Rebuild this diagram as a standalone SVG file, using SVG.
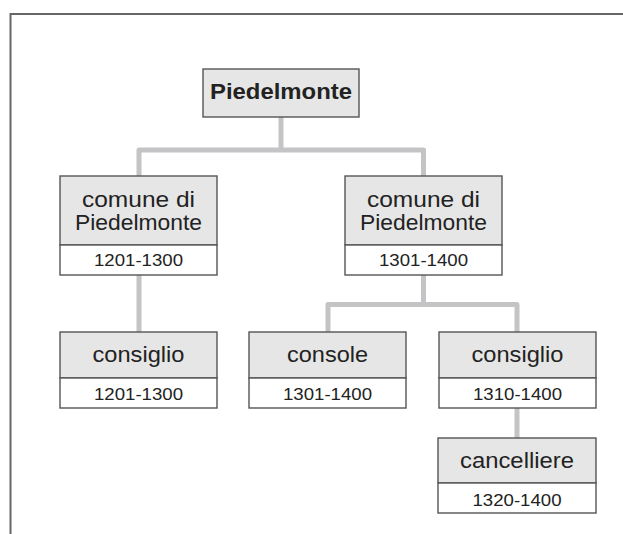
<svg xmlns="http://www.w3.org/2000/svg" width="623" height="534" viewBox="0 0 623 534">
<style>
.hd{fill:#e6e6e6;stroke:#555;stroke-width:1.4}
.dt{fill:#fff;stroke:#555;stroke-width:1.4}
.t{font-family:"Liberation Sans",Arial,sans-serif;font-size:22.5px;fill:#222;text-anchor:middle}
.b{font-weight:bold}
.d{font-family:"Liberation Sans",Arial,sans-serif;font-size:17px;fill:#222;text-anchor:middle}
.c{fill:none;stroke:#c4c4c6;stroke-width:5;stroke-linejoin:round}
</style>
<rect width="623" height="534" fill="#fff"/>
<path d="M10.5,534 V14 H623" fill="none" stroke="#666" stroke-width="2"/>
<g id="connectors">
<path class="c" d="M281,117 V150"/>
<path class="c" d="M139,176 V150 H423.5 V176"/>
<path class="c" d="M139,275 V332"/>
<path class="c" d="M423.5,275 V304.5"/>
<path class="c" d="M328,332 V304.5 H517 V332"/>
<path class="c" d="M517,408 V438"/>
</g>
<g id="n-piedelmonte">
<rect class="hd" x="203" y="69" width="156" height="48"/>
<text class="t b" x="281" y="99" textLength="142" lengthAdjust="spacingAndGlyphs">Piedelmonte</text>
</g>
<g id="n-comune1">
<rect class="hd" x="60" y="176" width="157" height="69"/>
<rect class="dt" x="60" y="245" width="157" height="30"/>
<text class="t" x="138.5" y="207" textLength="113" lengthAdjust="spacingAndGlyphs">comune di</text>
<text class="t" x="138.5" y="230" textLength="127" lengthAdjust="spacingAndGlyphs">Piedelmonte</text>
<text class="d" x="138.5" y="266" textLength="89" lengthAdjust="spacingAndGlyphs">1201-1300</text>
</g>
<g id="n-comune2">
<rect class="hd" x="345" y="176" width="157" height="69"/>
<rect class="dt" x="345" y="245" width="157" height="30"/>
<text class="t" x="423.5" y="207" textLength="113" lengthAdjust="spacingAndGlyphs">comune di</text>
<text class="t" x="423.5" y="230" textLength="127" lengthAdjust="spacingAndGlyphs">Piedelmonte</text>
<text class="d" x="423.5" y="266" textLength="89" lengthAdjust="spacingAndGlyphs">1301-1400</text>
</g>
<g id="n-consiglio1">
<rect class="hd" x="60" y="332" width="157" height="46"/>
<rect class="dt" x="60" y="378" width="157" height="30"/>
<text class="t" x="138.5" y="362" textLength="92" lengthAdjust="spacingAndGlyphs">consiglio</text>
<text class="d" x="138.5" y="400" textLength="89" lengthAdjust="spacingAndGlyphs">1201-1300</text>
</g>
<g id="n-console">
<rect class="hd" x="249" y="332" width="157" height="46"/>
<rect class="dt" x="249" y="378" width="157" height="30"/>
<text class="t" x="327.5" y="362" textLength="81" lengthAdjust="spacingAndGlyphs">console</text>
<text class="d" x="327.5" y="400" textLength="89" lengthAdjust="spacingAndGlyphs">1301-1400</text>
</g>
<g id="n-consiglio2">
<rect class="hd" x="439" y="332" width="157" height="46"/>
<rect class="dt" x="439" y="378" width="157" height="30"/>
<text class="t" x="517.5" y="362" textLength="92" lengthAdjust="spacingAndGlyphs">consiglio</text>
<text class="d" x="517.5" y="400" textLength="89" lengthAdjust="spacingAndGlyphs">1310-1400</text>
</g>
<g id="n-cancelliere">
<rect class="hd" x="438" y="438" width="158" height="45"/>
<rect class="dt" x="438" y="483" width="158" height="30"/>
<text class="t" x="517" y="468" textLength="114" lengthAdjust="spacingAndGlyphs">cancelliere</text>
<text class="d" x="517" y="506" textLength="89" lengthAdjust="spacingAndGlyphs">1320-1400</text>
</g>
</svg>
